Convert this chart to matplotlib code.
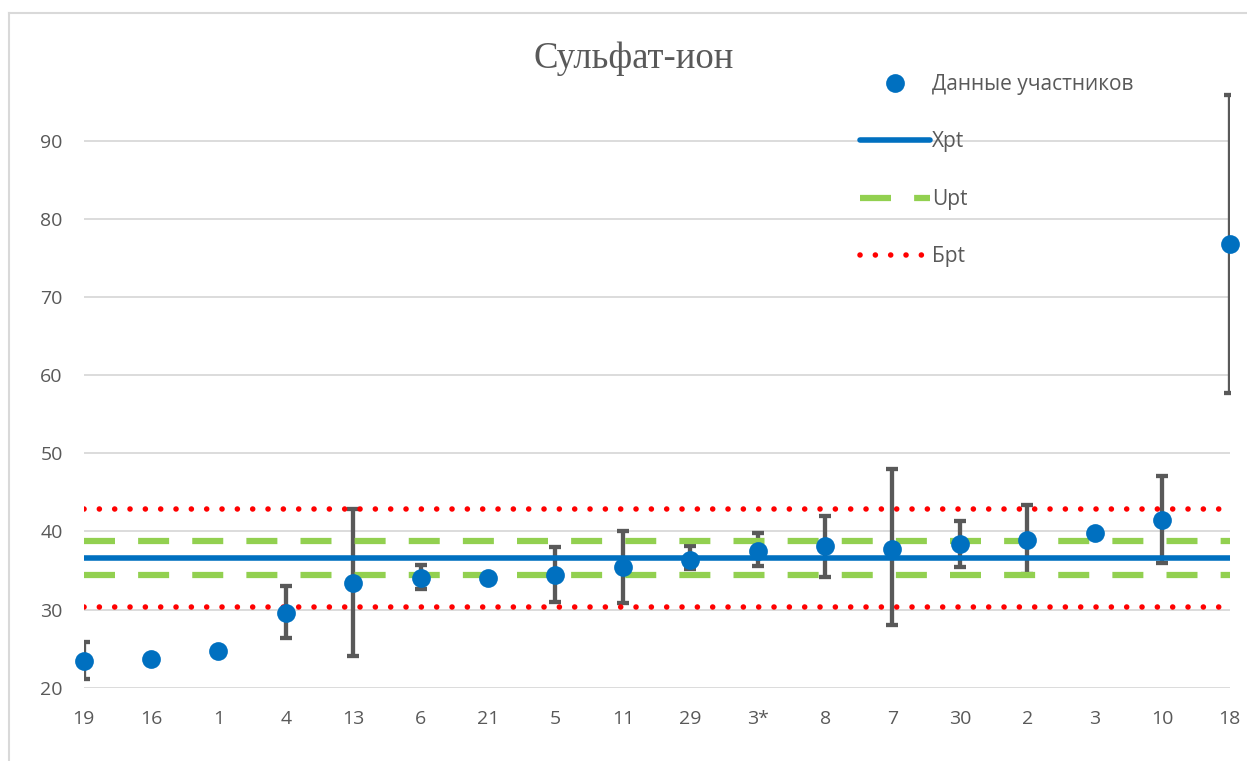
import numpy as np
import matplotlib
matplotlib.use('Agg')
import matplotlib.pyplot as plt
from matplotlib.lines import Line2D

plt.rcParams['font.family'] = ['Open Sans', 'DejaVu Sans']

# ==========================================
# Данные участников
# ==========================================
labels = ['19', '16', '1', '4', '13', '6', '21', '5', '11', '29', '3*', '8', '7', '30', '2', '3', '10', '18']
values = [23.4, 23.7, 24.7, 29.6, 33.4, 34.1, 34.0, 34.4, 35.4, 36.4, 37.5, 38.1, 37.8, 38.4, 38.9, 39.8, 41.5, 76.8]
# нижняя / верхняя граница погрешности (None - нет погрешности)
err_low = [21.1, None, None, 26.4, 24.1, 32.6, None, 31.0, 30.8, 35.2, 35.6, 34.2, 28.0, 35.4, 34.6, None, 36.0, 57.7]
err_high = [25.9, None, None, 33.0, 42.9, 35.7, None, 38.0, 40.1, 38.1, 39.8, 42.0, 48.0, 41.3, 43.4, None, 47.1, 95.9]

xpt = 36.6
upt = [34.4, 38.8]
bpt = [30.3, 42.9]

y_ticks = [20, 30, 40, 50, 60, 70, 80, 90]

GRAY = '#595959'
GRID = '#D9D9D9'
BLUE = '#0070C0'
GREEN = '#92D050'
RED = '#FF0000'

fig = plt.figure(figsize=(12.47, 7.61), dpi=100)
ax = fig.add_axes([0.0670, 0.0963, 0.9190, 0.7907])

x = np.arange(len(labels))
x_end = len(labels) - 1

# сетка
for yt in y_ticks:
    ax.axhline(yt, color=GRID, linewidth=1.3, zorder=0)

# погрешности
idx = [i for i in range(len(labels)) if err_low[i] is not None]
ex = np.array(idx)
ev = np.array([values[i] for i in idx])
elo = ev - np.array([err_low[i] for i in idx])
ehi = np.array([err_high[i] for i in idx]) - ev
ax.errorbar(ex, ev, yerr=[elo, ehi], fmt='none', ecolor=GRAY, elinewidth=3.1,
            capsize=4.1, capthick=3.1, zorder=2)

# опорные линии
ax.plot([0, x_end], [xpt, xpt], color=BLUE, linewidth=4.0, solid_capstyle='butt', zorder=3)
for u in upt:
    ax.plot([0, x_end], [u, u], color=GREEN, linewidth=4.5, linestyle=(0, (4.96, 3.7)),
            dash_capstyle='butt', zorder=3)
for b in bpt:
    ax.plot([0, x_end], [b, b], color=RED, linewidth=4.0, linestyle=(0, (0.01, 2.75)),
            dash_capstyle='round', zorder=3)

# точки участников
ax.plot(x, values, linestyle='none', marker='o', markersize=13.5, color=BLUE,
        markeredgewidth=0, clip_on=False, zorder=4)

ax.set_xlim(0, x_end)
ax.set_ylim(20, 97)
ax.set_xticks(x)
ax.set_xticklabels(labels)
ax.set_yticks(y_ticks)
ax.tick_params(axis='both', length=0, labelsize=14, labelcolor=GRAY)
ax.tick_params(axis='y', pad=15)
ax.tick_params(axis='x', pad=16)
for s in ax.spines.values():
    s.set_visible(False)
ax.set_facecolor('none')

# легенда
handles = [
    Line2D([], [], linestyle='none', marker='o', markersize=13.5, color=BLUE, markeredgewidth=0),
    Line2D([], [], color=BLUE, linewidth=4.0, solid_capstyle='round'),
    Line2D([], [], color=GREEN, linewidth=4.5, linestyle=(0, (4.96, 3.7)), dash_capstyle='butt'),
    Line2D([], [], color=RED, linewidth=4.0, linestyle=(0, (0.01, 2.75)), dash_capstyle='round'),
]
leg_labels = ['Данные участников', 'Xpt', 'Upt', 'Бpt']
leg = fig.legend(handles, leg_labels, loc='upper left', bbox_to_anchor=(860 / 1247, 1 - 74 / 761),
                 frameon=False, fontsize=15, handlelength=3.35, handletextpad=0.1,
                 labelspacing=1.75, borderpad=0, borderaxespad=0)
for t in leg.get_texts():
    t.set_color(GRAY)

# заголовок
fig.text(634 / 1247, 1 - 59 / 761, 'Сульфат-ион', ha='center', va='center',
         family=['Liberation Serif', 'DejaVu Serif'], fontsize=26.5, color=GRAY)

# рамка области диаграммы
fig.add_artist(Line2D([9 / 1247, 9 / 1247], [0, 1 - 13 / 761], color=GRID, linewidth=1.5))
fig.add_artist(Line2D([9 / 1247, 1], [1 - 13 / 761, 1 - 13 / 761], color=GRID, linewidth=1.5))

fig.savefig('out.png', dpi=100)
